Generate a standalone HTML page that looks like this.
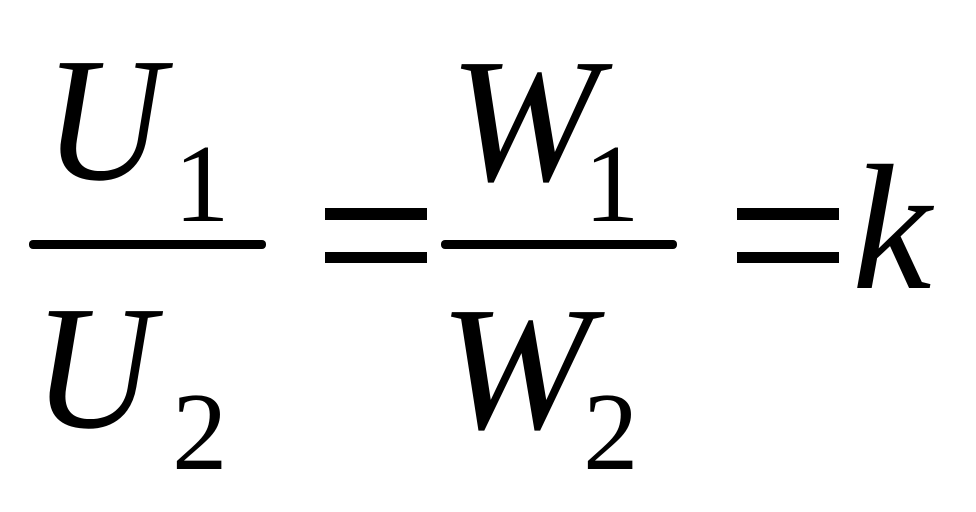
<!DOCTYPE html>
<html><head><meta charset="utf-8"><style>
html,body{margin:0;padding:0;background:#fff;}
svg{display:block;}
text{font-family:"Liberation Serif",serif;fill:#000;}
.i{font-style:italic;font-size:177px;}
.d{font-size:111px;}
</style></head><body>
<svg width="976" height="512" viewBox="0 0 976 512">
<rect width="976" height="512" fill="#fff"/>
<text class="i" x="44" y="179" textLength="120" lengthAdjust="spacingAndGlyphs">U</text>
<text class="d" x="174" y="221">1</text>
<rect x="29" y="240" width="237" height="9" rx="4" fill="#000"/>
<text class="i" x="33" y="427" textLength="121" lengthAdjust="spacingAndGlyphs">U</text>
<text class="d" x="172" y="469">2</text>
<rect x="325" y="208" width="102" height="12" fill="#000"/>
<rect x="325" y="252" width="102" height="11" fill="#000"/>
<text class="i" x="449" y="180" textLength="150" lengthAdjust="spacingAndGlyphs">W</text>
<text class="d" x="584" y="221">1</text>
<rect x="441" y="240" width="236" height="9" rx="4" fill="#000"/>
<text class="i" x="439" y="428" textLength="152" lengthAdjust="spacingAndGlyphs">W</text>
<text class="d" x="583" y="469">2</text>
<rect x="737" y="208" width="102" height="12" fill="#000"/>
<rect x="737" y="252" width="102" height="11" fill="#000"/>
<text class="i" style="font-size:179px" x="852" y="288">k</text>
</svg>
</body></html>
